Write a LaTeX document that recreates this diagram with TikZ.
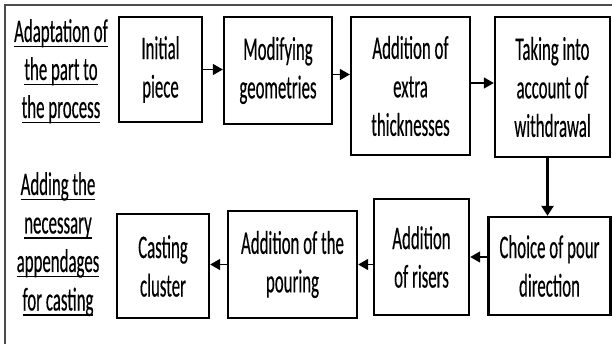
\documentclass[tikz,border=0pt]{standalone}
\usepackage{fontspec}
\setmainfont{Carlito}[FakeStretch=0.51,FakeBold=0.3]
\usetikzlibrary{arrows.meta}
\def\undl#1{\leavevmode\setbox0\hbox{#1}\rlap{\rule[-5pt]{\wd0}{1.2pt}}\box0}

\begin{document}
\begin{tikzpicture}[x=1pt,y=-1pt,
		box/.style={draw,line width=2.4pt,align=center,inner sep=0pt,font=\fontsize{33}{38.5}\selectfont},
		lbl/.style={anchor=base,inner sep=0pt,font=\fontsize{33}{38.5}\selectfont},
		arr/.style={line width=1.5pt,-{Triangle[length=10pt,width=11pt]}}]
	\useasboundingbox (0,0) rectangle (612,344);
	\draw[line width=2pt,color=black!70] (5,344) -- (5,5) -- (612,5);
	
	\foreach \t [count=\i] in {Adaptation of,the part to,the process}
		\node[lbl] (up\i) at (61,{42+38*(\i-1)}) {\undl{\t}};
	\foreach \t [count=\i] in {Adding the,necessary,appendages,for casting}
		\node[lbl] (lo\i) at (58,{195+38.5*(\i-1)}) {\undl{\t}};
	
	\node[box,minimum width=83pt,minimum height=105pt] (init) at (160.5,69.5) {Initial\\piece};
	\node[box,minimum width=108pt,minimum height=107pt] (modif) at (278,70.5) {Modifying\\geometries};
	\node[box,minimum width=119pt,minimum height=138pt] (extra) at (410.5,86) {Addition of\\extra\\thicknesses};
	\node[box,minimum width=115pt,minimum height=140pt] (withd) at (552.5,87) {Taking into\\account of\\withdrawal};
	\node[box,minimum width=122pt,minimum height=98pt] (pour) at (549.5,266) {Choice of pour\\direction};
	\node[box,minimum width=95pt,minimum height=116pt] (risers) at (421.5,257) {Addition\\of risers};
	\node[box,minimum width=129pt,minimum height=107pt] (pouring) at (292.5,264.5) {Addition of the\\pouring};
	\node[box,minimum width=92pt,minimum height=104pt] (cluster) at (163,266) {Casting\\cluster};
	
	\draw[arr] (init.east) -- (init.east -| modif.west);
	\draw[arr] ([yshift=-4pt]modif.east) -- ([yshift=-4pt]modif.east -| extra.west);
	\draw[arr] ([yshift=3pt]extra.east) -- ([yshift=3pt]extra.east -| withd.west);
	\draw[line width=3.5pt,-{Triangle[length=10pt,width=12pt]}] ([xshift=-5pt]withd.south) -- ([xshift=-5pt]withd.south |- pour.north);
	\draw[arr] (risers.east -| pour.west) -- (risers.east);
	\draw[arr] (risers.west |- pouring.east) -- (pouring.east);
	\draw[arr] (pouring.west) -- (pouring.west -| cluster.east);
\end{tikzpicture}
\end{document}
